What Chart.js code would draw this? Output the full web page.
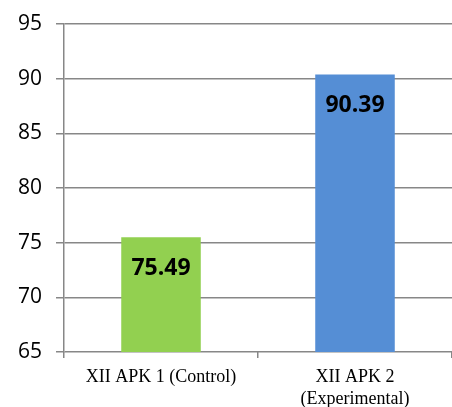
<!DOCTYPE html>
<html>
<head>
<meta charset="utf-8">
<script src="https://cdn.jsdelivr.net/npm/chart.js@4"></script>
<style>
html,body{margin:0;padding:0;background:#fff;}
#wrap{width:452px;height:407px;}
</style>
</head>
<body>
<div id="wrap"><canvas id="c" width="452" height="407"></canvas></div>
<script>
const categories = [['XII APK 1 (Control)'], ['XII APK 2', '(Experimental)']];
const values = [75.49, 90.39];
const barColors = ['#92D050', '#558ED5'];
const yMin = 65, yMax = 95, yStep = 5;

const valueLabels = {
  id: 'valueLabels',
  afterDatasetsDraw(chart) {
    const ctx = chart.ctx;
    const meta = chart.getDatasetMeta(0);
    ctx.save();
    ctx.font = 'bold 23px "Open Sans", Arial, sans-serif';
    ctx.fillStyle = '#000';
    ctx.textAlign = 'center';
    ctx.textBaseline = 'middle';
    meta.data.forEach((bar, i) => {
      ctx.fillText(values[i].toFixed(2), bar.x, bar.y + 31);
    });
    ctx.restore();
  }
};

new Chart(document.getElementById('c'), {
  type: 'bar',
  data: {
    labels: categories,
    datasets: [{
      data: values,
      backgroundColor: barColors,
      borderWidth: 0,
      barPercentage: 0.41,
      categoryPercentage: 1.0
    }]
  },
  options: {
    responsive: false,
    animation: false,
    devicePixelRatio: 1,
    layout: { padding: { top: 0, right: 0, left: 4, bottom: 0 } },
    plugins: { legend: { display: false }, tooltip: { enabled: false } },
    scales: {
      y: {
        min: yMin, max: yMax,
        ticks: {
          stepSize: yStep,
          color: '#000',
          padding: 14,
          font: { family: '"Open Sans", Arial, sans-serif', size: 21, lineHeight: 0.95 }
        },
        grid: { color: '#878787', lineWidth: 1.5, tickLength: 8, drawTicks: true },
        border: { display: true, color: '#878787', width: 1.5 }
      },
      x: {
        afterFit(scale) { scale.height = 55; },
        ticks: {
          color: '#000',
          padding: 8,
          maxRotation: 0,
          font: { family: '"Liberation Serif", "Times New Roman", serif', size: 18, lineHeight: 1.22 }
        },
        grid: { display: true, drawOnChartArea: false, color: '#878787', lineWidth: 1.5, tickLength: 6, offset: true },
        border: { display: false }
      }
    }
  },
  plugins: [valueLabels]
});
</script>
</body>
</html>
